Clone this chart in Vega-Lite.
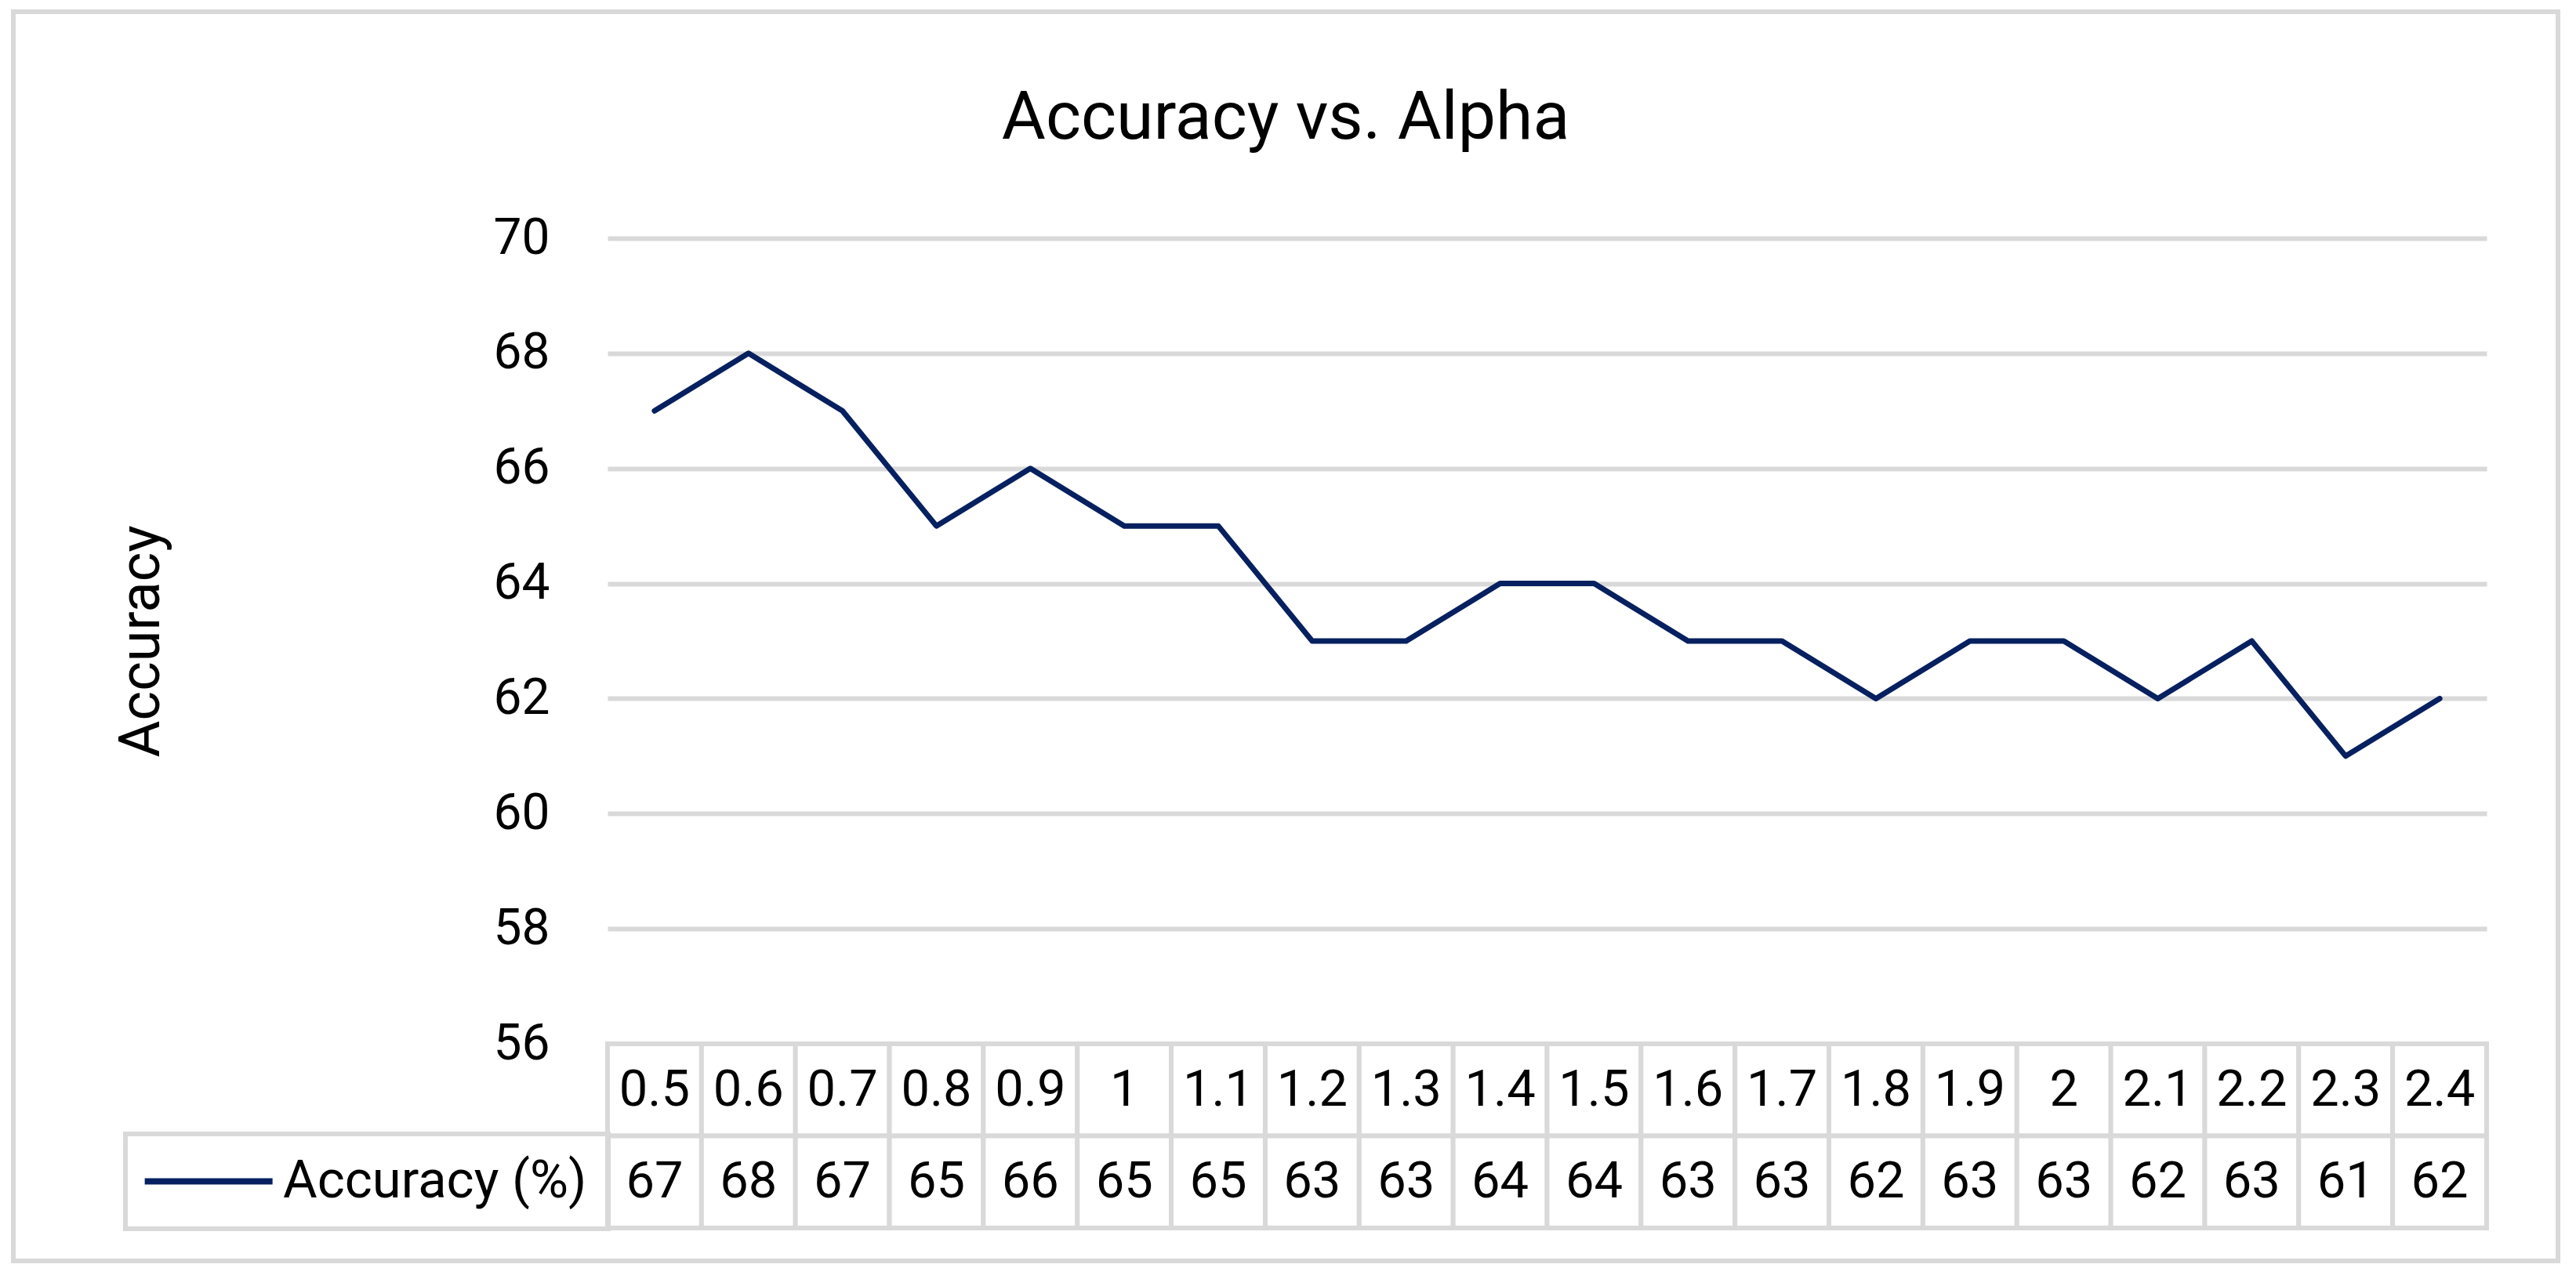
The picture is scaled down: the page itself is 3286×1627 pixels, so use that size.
{
  "$schema": "https://vega.github.io/schema/vega-lite/v6.json",
  "width": 3246,
  "height": 1594,
  "autosize": {"type": "none"},
  "padding": {"left": 17, "top": 15, "right": 23, "bottom": 18},
  "background": "white",
  "config": {
    "view": {"stroke": "#d9d9d9", "strokeWidth": 6},
    "legend": {"strokeWidth": 6},
    "font": "Roboto"
  },
  "title": {
    "text": "Accuracy vs. Alpha",
    "font": "Roboto",
    "fontSize": 86,
    "fontWeight": "normal",
    "color": "black",
    "anchor": "middle",
    "baseline": "alphabetic",
    "offset": -248
  },
  "data": {
    "values": [
      {"alpha": "0.5", "accuracy": 67},
      {"alpha": "0.6", "accuracy": 68},
      {"alpha": "0.7", "accuracy": 67},
      {"alpha": "0.8", "accuracy": 65},
      {"alpha": "0.9", "accuracy": 66},
      {"alpha": "1", "accuracy": 65},
      {"alpha": "1.1", "accuracy": 65},
      {"alpha": "1.2", "accuracy": 63},
      {"alpha": "1.3", "accuracy": 63},
      {"alpha": "1.4", "accuracy": 64},
      {"alpha": "1.5", "accuracy": 64},
      {"alpha": "1.6", "accuracy": 63},
      {"alpha": "1.7", "accuracy": 63},
      {"alpha": "1.8", "accuracy": 62},
      {"alpha": "1.9", "accuracy": 63},
      {"alpha": "2", "accuracy": 63},
      {"alpha": "2.1", "accuracy": 62},
      {"alpha": "2.2", "accuracy": 63},
      {"alpha": "2.3", "accuracy": 61},
      {"alpha": "2.4", "accuracy": 62}
    ]
  },
  "layer": [
    {
      "mark": {"type": "line", "strokeWidth": 7, "strokeCap": "round", "strokeJoin": "round"},
      "encoding": {
        "x": {
          "field": "alpha",
          "type": "ordinal",
          "sort": null,
          "bandPosition": 0.5,
          "scale": {
            "type": "band",
            "domain": ["0.5","0.6","0.7","0.8","0.9","1","1.1","1.2","1.3","1.4","1.5","1.6","1.7","1.8","1.9","2","2.1","2.2","2.3","2.4"],
            "range": [758, 3155],
            "paddingInner": 0,
            "paddingOuter": 0
          },
          "axis": null
        },
        "y": {
          "field": "accuracy",
          "type": "quantitative",
          "scale": {"domain": [56, 70], "range": [1317, 289], "nice": false, "zero": false},
          "axis": {
            "values": [56, 58, 60, 62, 64, 66, 68, 70],
            "offset": -758,
            "grid": true,
            "gridColor": "#d9d9d9",
            "gridWidth": 6,
            "domain": false,
            "ticks": false,
            "tickSize": 0,
            "labelPadding": 74,
            "labelFontSize": 64,
            "labelFont": "Roboto",
            "labelColor": "black",
            "title": "Accuracy",
            "titleFont": "Roboto",
            "titleFontSize": 72,
            "titleFontWeight": "normal",
            "titleColor": "black",
            "titlePadding": 412
          }
        },
        "color": {
          "datum": "Accuracy (%)",
          "type": "nominal",
          "scale": {"range": ["#07205f"]},
          "legend": {
            "orient": "none",
            "legendX": 143,
            "legendY": 1432,
            "title": null,
            "symbolType": "M-2.2,0H7.8",
            "symbolSize": 1063,
            "symbolStrokeWidth": 8,
            "labelFont": "Roboto",
            "labelFontSize": 67,
            "labelColor": "black",
            "labelLimit": 0,
            "labelOffset": 107,
            "padding": 27,
            "strokeColor": "#d9d9d9"
          }
        }
      }
    },
    {
      "layer": [
        {
          "mark": {"type": "rect", "fill": "white", "stroke": "#d9d9d9", "strokeWidth": 6},
          "encoding": {
            "x": {"field": "alpha", "type": "ordinal", "sort": null},
            "y": {
              "datum": "alpha",
              "type": "nominal",
              "scale": {"type": "band", "domain": ["alpha", "acc"], "range": [1317, 1552], "paddingInner": 0, "paddingOuter": 0},
              "axis": null
            }
          }
        },
        {
          "mark": {"type": "rect", "fill": "white", "stroke": "#d9d9d9", "strokeWidth": 6},
          "encoding": {
            "x": {"field": "alpha", "type": "ordinal", "sort": null},
            "y": {"datum": "acc", "type": "nominal", "axis": null}
          }
        },
        {
          "mark": {"type": "text", "font": "Roboto", "fontSize": 65, "color": "black", "baseline": "middle", "align": "center"},
          "encoding": {
            "x": {"field": "alpha", "type": "ordinal", "sort": null},
            "y": {"datum": "alpha", "type": "nominal", "axis": null},
            "text": {"field": "alpha", "type": "nominal"}
          }
        },
        {
          "mark": {"type": "text", "font": "Roboto", "fontSize": 65, "color": "black", "baseline": "middle", "align": "center"},
          "encoding": {
            "x": {"field": "alpha", "type": "ordinal", "sort": null},
            "y": {"datum": "acc", "type": "nominal", "axis": null},
            "text": {"field": "accuracy", "type": "quantitative"}
          }
        }
      ]
    }
  ],
  "resolve": {"scale": {"y": "independent"}, "axis": {"y": "independent"}}
}
